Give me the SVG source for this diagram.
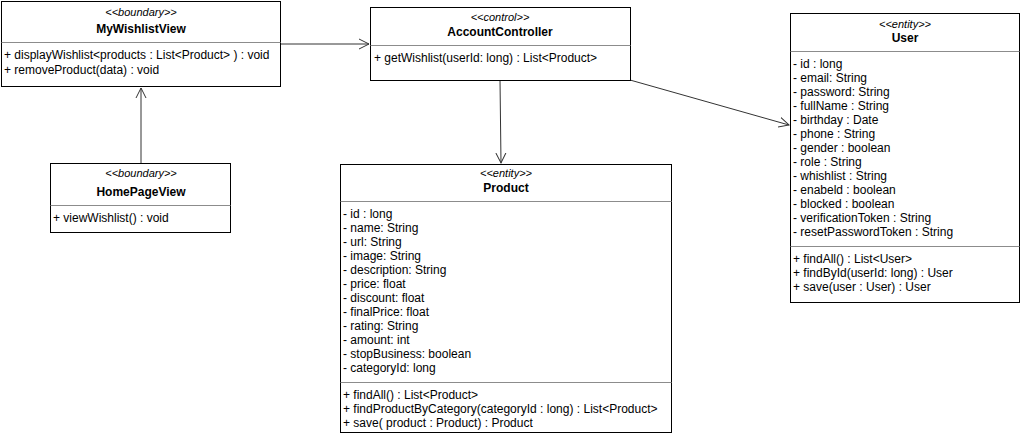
<svg xmlns="http://www.w3.org/2000/svg" width="1021" height="434" viewBox="0 0 1021 434">
<style>
.box{fill:#fff;stroke:#000;stroke-width:1}
.sep{stroke:#8c8c8c;stroke-width:1}
text{font-family:"Liberation Sans",Arial,sans-serif;font-size:12px;fill:#000}
.st{font-style:italic;font-size:11px;text-anchor:middle}
.nm{font-weight:bold;font-size:12px;text-anchor:middle}
.cn{stroke:#333;stroke-width:1;fill:none}
</style>
<defs>
<marker id="open" markerWidth="12" markerHeight="12" refX="10" refY="5" orient="auto" markerUnits="userSpaceOnUse" viewBox="0 0 12 10">
<path d="M0,0 L10,5 L0,10" fill="none" stroke="#333" stroke-width="1"/>
</marker>
</defs>
<rect width="1021" height="434" fill="#fff"/>
<g id="connectors">
<line class="cn" x1="280" y1="44" x2="369" y2="44" marker-end="url(#open)"/>
<line class="cn" x1="141" y1="163" x2="141" y2="88" marker-end="url(#open)"/>
<line class="cn" x1="500" y1="80" x2="501" y2="163" marker-end="url(#open)"/>
<line class="cn" x1="630" y1="80" x2="789" y2="125" marker-end="url(#open)"/>
</g>
<g id="MyWishlistView">
<rect class="box" x="1.5" y="1.5" width="279" height="85"/>
<line class="sep" x1="1.5" y1="42.5" x2="280.5" y2="42.5"/>
<text class="st" x="141" y="16">&lt;&lt;boundary&gt;&gt;</text>
<text class="nm" x="141" y="33">MyWishlistView</text>
<text x="4" y="59">+ displayWishlist&lt;products : List&lt;Product&gt; ) : void</text>
<text x="4" y="74">+ removeProduct(data) : void</text>
</g>
<g id="AccountController">
<rect class="box" x="370.5" y="7.5" width="260" height="73"/>
<line class="sep" x1="370.5" y1="45.5" x2="630.5" y2="45.5"/>
<text class="st" x="500" y="21">&lt;&lt;control&gt;&gt;</text>
<text class="nm" x="500" y="36">AccountController</text>
<text x="374" y="62">+ getWishlist(userId: long) : List&lt;Product&gt;</text>
</g>
<g id="HomePageView">
<rect class="box" x="50.5" y="163.5" width="180" height="69"/>
<line class="sep" x1="50.5" y1="205.5" x2="230.5" y2="205.5"/>
<text class="st" x="141" y="177">&lt;&lt;boundary&gt;&gt;</text>
<text class="nm" x="141" y="196">HomePageView</text>
<text x="53" y="222">+ viewWishlist() : void</text>
</g>
<g id="Product">
<rect class="box" x="340.5" y="164.5" width="331" height="268"/>
<line class="sep" x1="340.5" y1="201.5" x2="671.5" y2="201.5"/>
<line class="sep" x1="340.5" y1="382.5" x2="671.5" y2="382.5"/>
<text class="st" x="506" y="177">&lt;&lt;entity&gt;&gt;</text>
<text class="nm" x="506" y="192">Product</text>
<text x="343" y="218">- id : long</text>
<text x="343" y="232">- name: String</text>
<text x="343" y="246">- url: String</text>
<text x="343" y="260">- image: String</text>
<text x="343" y="274">- description: String</text>
<text x="343" y="288">- price: float</text>
<text x="343" y="302">- discount: float</text>
<text x="343" y="316">- finalPrice: float</text>
<text x="343" y="330">- rating: String</text>
<text x="343" y="344">- amount: int</text>
<text x="343" y="358">- stopBusiness: boolean</text>
<text x="343" y="372">- categoryId: long</text>
<text x="343" y="399">+ findAll() : List&lt;Product&gt;</text>
<text x="343" y="413">+ findProductByCategory(categoryId : long) : List&lt;Product&gt;</text>
<text x="343" y="427">+ save( product : Product) : Product</text>
</g>
<g id="User">
<rect class="box" x="790.5" y="13.5" width="229" height="289"/>
<line class="sep" x1="790.5" y1="51.5" x2="1019.5" y2="51.5"/>
<line class="sep" x1="790.5" y1="246.5" x2="1019.5" y2="246.5"/>
<text class="st" x="905" y="28">&lt;&lt;entity&gt;&gt;</text>
<text class="nm" x="905" y="42">User</text>
<text x="793" y="68">- id : long</text>
<text x="793" y="82">- email: String</text>
<text x="793" y="96">- password: String</text>
<text x="793" y="110">- fullName : String</text>
<text x="793" y="124">- birthday : Date</text>
<text x="793" y="138">- phone : String</text>
<text x="793" y="152">- gender : boolean</text>
<text x="793" y="166">- role : String</text>
<text x="793" y="180">- whishlist : String</text>
<text x="793" y="194">- enabeld : boolean</text>
<text x="793" y="208">- blocked : boolean</text>
<text x="793" y="222">- verificationToken : String</text>
<text x="793" y="236">- resetPasswordToken : String</text>
<text x="793" y="263">+ findAll() : List&lt;User&gt;</text>
<text x="793" y="277">+ findById(userId: long) : User</text>
<text x="793" y="291">+ save(user : User) : User</text>
</g>
</svg>
